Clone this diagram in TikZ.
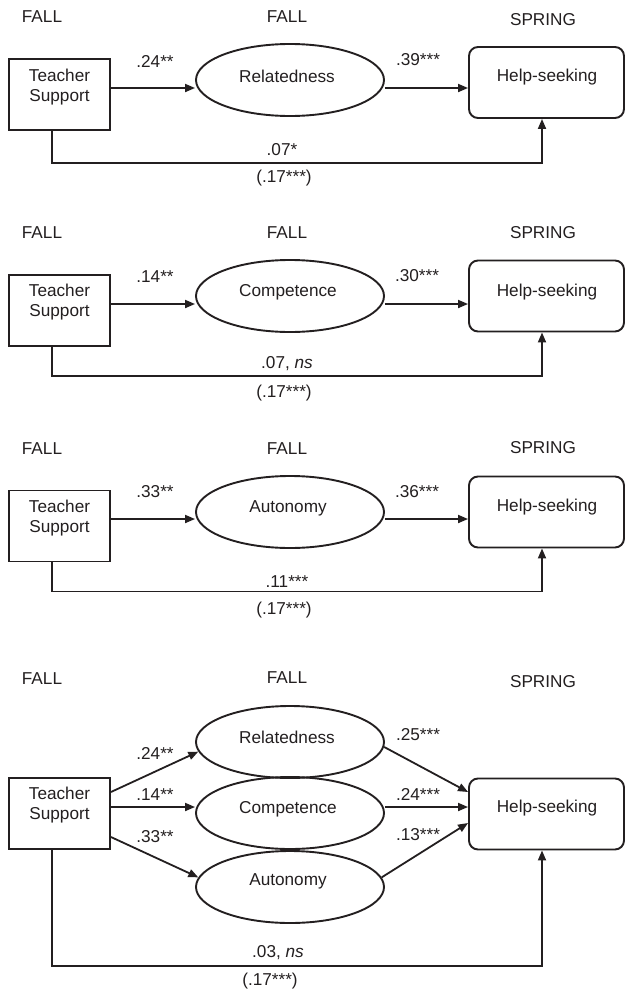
\documentclass[tikz,border=0pt]{standalone}
\usepackage{fontspec}
\setmainfont{Liberation Sans}
\usetikzlibrary{arrows.meta,shapes.geometric}
\definecolor{ink}{RGB}{35,31,32}
\begin{document}
\begin{tikzpicture}[x=1pt,y=-1pt,
  lbl/.style={font=\fontsize{17.2}{20}\selectfont, text=ink, inner sep=0pt, align=center},
  tsbox/.style={draw=ink, line width=1.9pt, rectangle, minimum width=101pt, minimum height=71pt, inner sep=0pt},
  latent/.style={draw=ink, line width=1.9pt, ellipse, minimum width=188pt, minimum height=72pt, inner sep=0pt},
  outcome/.style={draw=ink, line width=1.9pt, rectangle, rounded corners=9pt, minimum width=155pt, minimum height=71pt, inner sep=0pt},
  link/.style={draw=ink, line width=1.8pt, -{Triangle[length=10pt,width=8pt]}},
]
\useasboundingbox (0,0) rectangle (626,991);

% ---------- Model 1: relatedness ----------
\node[lbl] (f1a) at (42,17) {FALL};
\node[lbl] (f1b) at (287,17) {FALL};
\node[lbl] (s1) at (543,20) {SPRING};
\node[tsbox] (ts1) at (59.5,94.5) {};
\node[lbl] (ts1t) at (59.5,87) {Teacher\\Support};
\node[latent] (m1) at (290,80) {};
\node[lbl] (m1t) at (287,76) {Relatedness};
\node[outcome] (hs1) at (546.5,82.5) {};
\node[lbl] (hs1t) at (547,77) {Help-seeking};
\draw[link] ([yshift=6.5pt]ts1.east) -- ([yshift=-8pt]m1.west);
\draw[link] ([yshift=-8pt]m1.east) -- ([yshift=-5.5pt]hs1.west);
\draw[link] ([xshift=-7.5pt]ts1.south) -- ++(0,32) -| ([xshift=-4.5pt]hs1.south);
\node[lbl] (a1) at (155,61) {.24**};
\node[lbl] (b1) at (418,60) {.39***};
\node[lbl] (c1) at (282,150) {.07*};
\node[lbl] (t1) at (284,178) {(.17***)};

% ---------- Model 2: competence ----------
\node[lbl] (f2a) at (42,233) {FALL};
\node[lbl] (f2b) at (287,233) {FALL};
\node[lbl] (s2) at (543,233) {SPRING};
\node[tsbox] (ts2) at (59.5,310.5) {};
\node[lbl] (ts2t) at (59.5,302) {Teacher\\Support};
\node[latent] (m2) at (290,296) {};
\node[lbl] (m2t) at (288,292) {Competence};
\node[outcome] (hs2) at (546.5,296) {};
\node[lbl] (hs2t) at (547,292) {Help-seeking};
\draw[link] ([yshift=6.5pt]ts2.east) -- ([yshift=-8pt]m2.west);
\draw[link] ([yshift=-8pt]m2.east) -- ([yshift=-8pt]hs2.west);
\draw[link] ([xshift=-7.5pt]ts2.south) -- ++(0,29) -| ([xshift=-4.5pt]hs2.south);
\node[lbl] (a2) at (155,277) {.14**};
\node[lbl] (b2) at (417,276) {.30***};
\node[lbl] (c2) at (287,364) {.07, \textit{ns}};
\node[lbl] (t2) at (284,393) {(.17***)};

% ---------- Model 3: autonomy ----------
\node[lbl] (f3a) at (42,449) {FALL};
\node[lbl] (f3b) at (287,449) {FALL};
\node[lbl] (s3) at (543,448) {SPRING};
\node[tsbox] (ts3) at (59.5,526) {};
\node[lbl] (ts3t) at (59.5,518) {Teacher\\Support};
\node[latent] (m3) at (290,512) {};
\node[lbl] (m3t) at (288,508) {Autonomy};
\node[outcome] (hs3) at (546.5,512) {};
\node[lbl] (hs3t) at (547,507) {Help-seeking};
\draw[link] ([yshift=7pt]ts3.east) -- ([yshift=-7pt]m3.west);
\draw[link] ([yshift=-7pt]m3.east) -- ([yshift=-7pt]hs3.west);
\draw[link] ([xshift=-7.5pt]ts3.south) -- ++(0,29) -| ([xshift=-4.5pt]hs3.south);
\node[lbl] (a3) at (155,492) {.33**};
\node[lbl] (b3) at (417,492) {.36***};
\node[lbl] (c3) at (287,582) {.11***};
\node[lbl] (t3) at (284,610) {(.17***)};

% ---------- Model 4: all three mediators ----------
\node[lbl] (f4a) at (42,679) {FALL};
\node[lbl] (f4b) at (287,678) {FALL};
\node[lbl] (s4) at (543,682) {SPRING};
\node[tsbox] (ts4) at (59.5,813.5) {};
\node[lbl] (ts4t) at (59.5,805.5) {Teacher\\Support};
\node[latent] (rel) at (290,742) {};
\node[lbl] (relt) at (287,737) {Relatedness};
\node[latent] (comp) at (290,813) {};
\node[lbl] (compt) at (288,809) {Competence};
\node[latent] (auto) at (290,887) {};
\node[lbl] (autot) at (288,881) {Autonomy};
\node[outcome] (hs4) at (546.5,814) {};
\node[lbl] (hs4t) at (547,808) {Help-seeking};
\draw[link] ([yshift=21.5pt]ts4.east) -- (rel.186);
\draw[link] ([yshift=6.5pt]ts4.east) -- ([yshift=6pt]comp.west);
\draw[link] ([yshift=-23.5pt]ts4.east) -- (auto.174);
\draw[link] (rel.-3) -- ([yshift=22pt]hs4.west);
\draw[link] ([yshift=6pt]comp.east) -- ([yshift=7pt]hs4.west);
\draw[link] (auto.6) -- ([yshift=-9pt]hs4.west);
\draw[link] ([xshift=-7.5pt]ts4.south) -- ++(0,116) -| ([xshift=-4.5pt]hs4.south);
\node[lbl] (a4) at (155,753) {.24**};
\node[lbl] (d4) at (155,795) {.14**};
\node[lbl] (e4) at (155,837) {.33**};
\node[lbl] (b4) at (418,735) {.25***};
\node[lbl] (g4) at (418,794) {.24***};
\node[lbl] (h4) at (418,835) {.13***};
\node[lbl] (c4) at (278,953) {.03, \textit{ns}};
\node[lbl] (t4) at (270,981) {(.17***)};
\end{tikzpicture}
\end{document}
